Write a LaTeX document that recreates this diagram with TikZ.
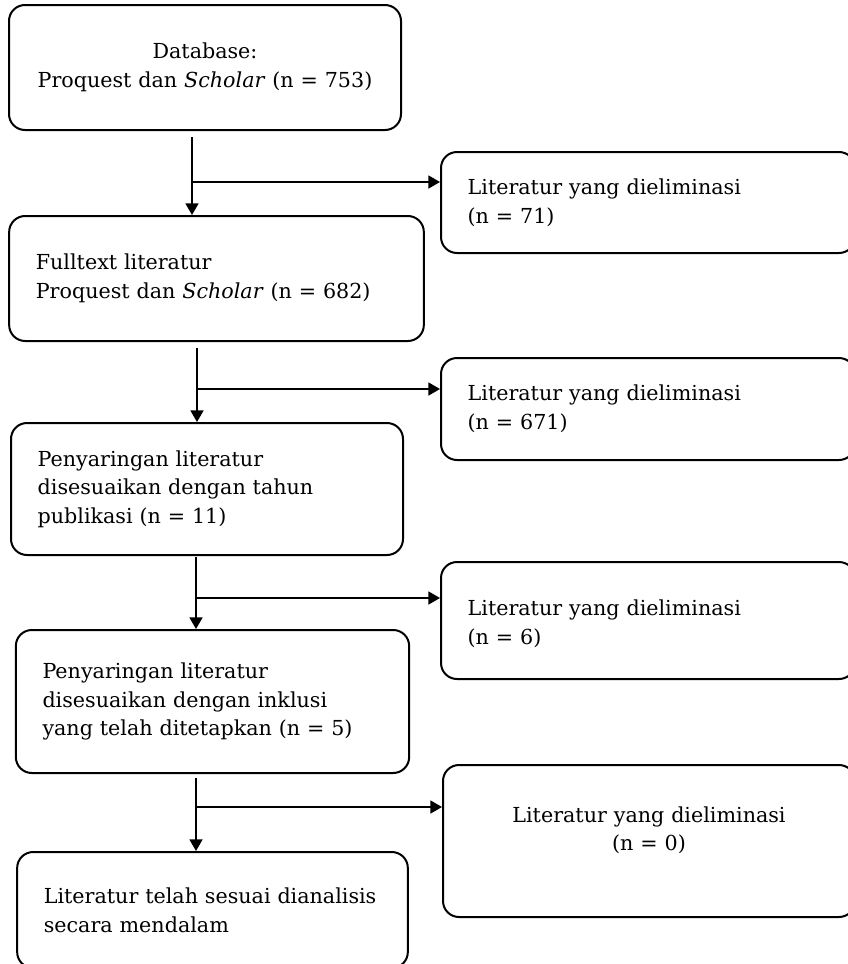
\documentclass[tikz,border=0pt]{standalone}
\usepackage{fontspec}
\setmainfont{DejaVu Serif}
\usepackage{tikz}
\usetikzlibrary{arrows}

\tikzset{
	kotak/.style={draw, line width=1.5pt, rounded corners=12pt, inner xsep=20pt, inner ysep=0pt, align=left, font=\fontsize{15.5}{21.5}\selectfont},
	panah/.style={line width=1.4pt, -triangle 60},
}

\begin{document}
\begin{tikzpicture}[x=0.75pt, y=-0.75pt]
		\useasboundingbox (0,0) rectangle (848,964);
		
		\node[kotak, align=center, text width=254pt, minimum height=93.75pt] (db) at (205,67.5) {Database:\\Proquest dan \textit{Scholar} (n = 753)};
		\node[kotak, text width=271pt, minimum height=93.75pt] (full) at (216.5,278.5) {Fulltext literatur\\Proquest dan \textit{Scholar} (n = 682)};
		\node[kotak, text width=254pt, minimum height=99pt] (tahun) at (207,489) {Penyaringan literatur\\disesuaikan dengan tahun\\publikasi (n = 11)};
		\node[kotak, text width=255pt, minimum height=107.25pt] (inklusi) at (212.5,701.5) {Penyaringan literatur\\disesuaikan dengan inklusi\\yang telah ditetapkan (n = 5)};
		\node[kotak, text width=253pt, minimum height=87pt] (akhir) at (212.5,910) {Literatur telah sesuai dianalisis\\secara mendalam};
		
		\node[kotak, text width=270.5pt, minimum height=75.75pt] (elim1) at (648,202.5) {Literatur yang dieliminasi\\(n = 71)};
		\node[kotak, text width=270.5pt, minimum height=76.5pt] (elim2) at (648,409) {Literatur yang dieliminasi\\(n = 671)};
		\node[kotak, text width=270.5pt, minimum height=87.75pt, text depth=19pt] (elim3) at (648,620.5) {Literatur yang dieliminasi\\(n = 6)};
		\node[kotak, align=center, text width=269pt, minimum height=114pt, text depth=40pt] (elim4) at (649,841) {Literatur yang dieliminasi\\(n = 0)};
		
		\coordinate (s1) at (192,137);
		\coordinate (b1) at (192,182);
		\coordinate (s2) at (197,348);
		\coordinate (b2) at (197,389);
		\coordinate (s3) at (196,557);
		\coordinate (b3) at (196,598);
		\coordinate (s4) at (196,778);
		\coordinate (b4) at (196,807);
		
		\draw[panah] (s1) -- (s1 |- full.north);
		\draw[panah] (b1) -- (b1 -| elim1.west);
		\draw[panah] (s2) -- (s2 |- tahun.north);
		\draw[panah] (b2) -- (b2 -| elim2.west);
		\draw[panah] (s3) -- (s3 |- inklusi.north);
		\draw[panah] (b3) -- (b3 -| elim3.west);
		\draw[panah] (s4) -- (s4 |- akhir.north);
		\draw[panah] (b4) -- (b4 -| elim4.west);
\end{tikzpicture}
\end{document}
